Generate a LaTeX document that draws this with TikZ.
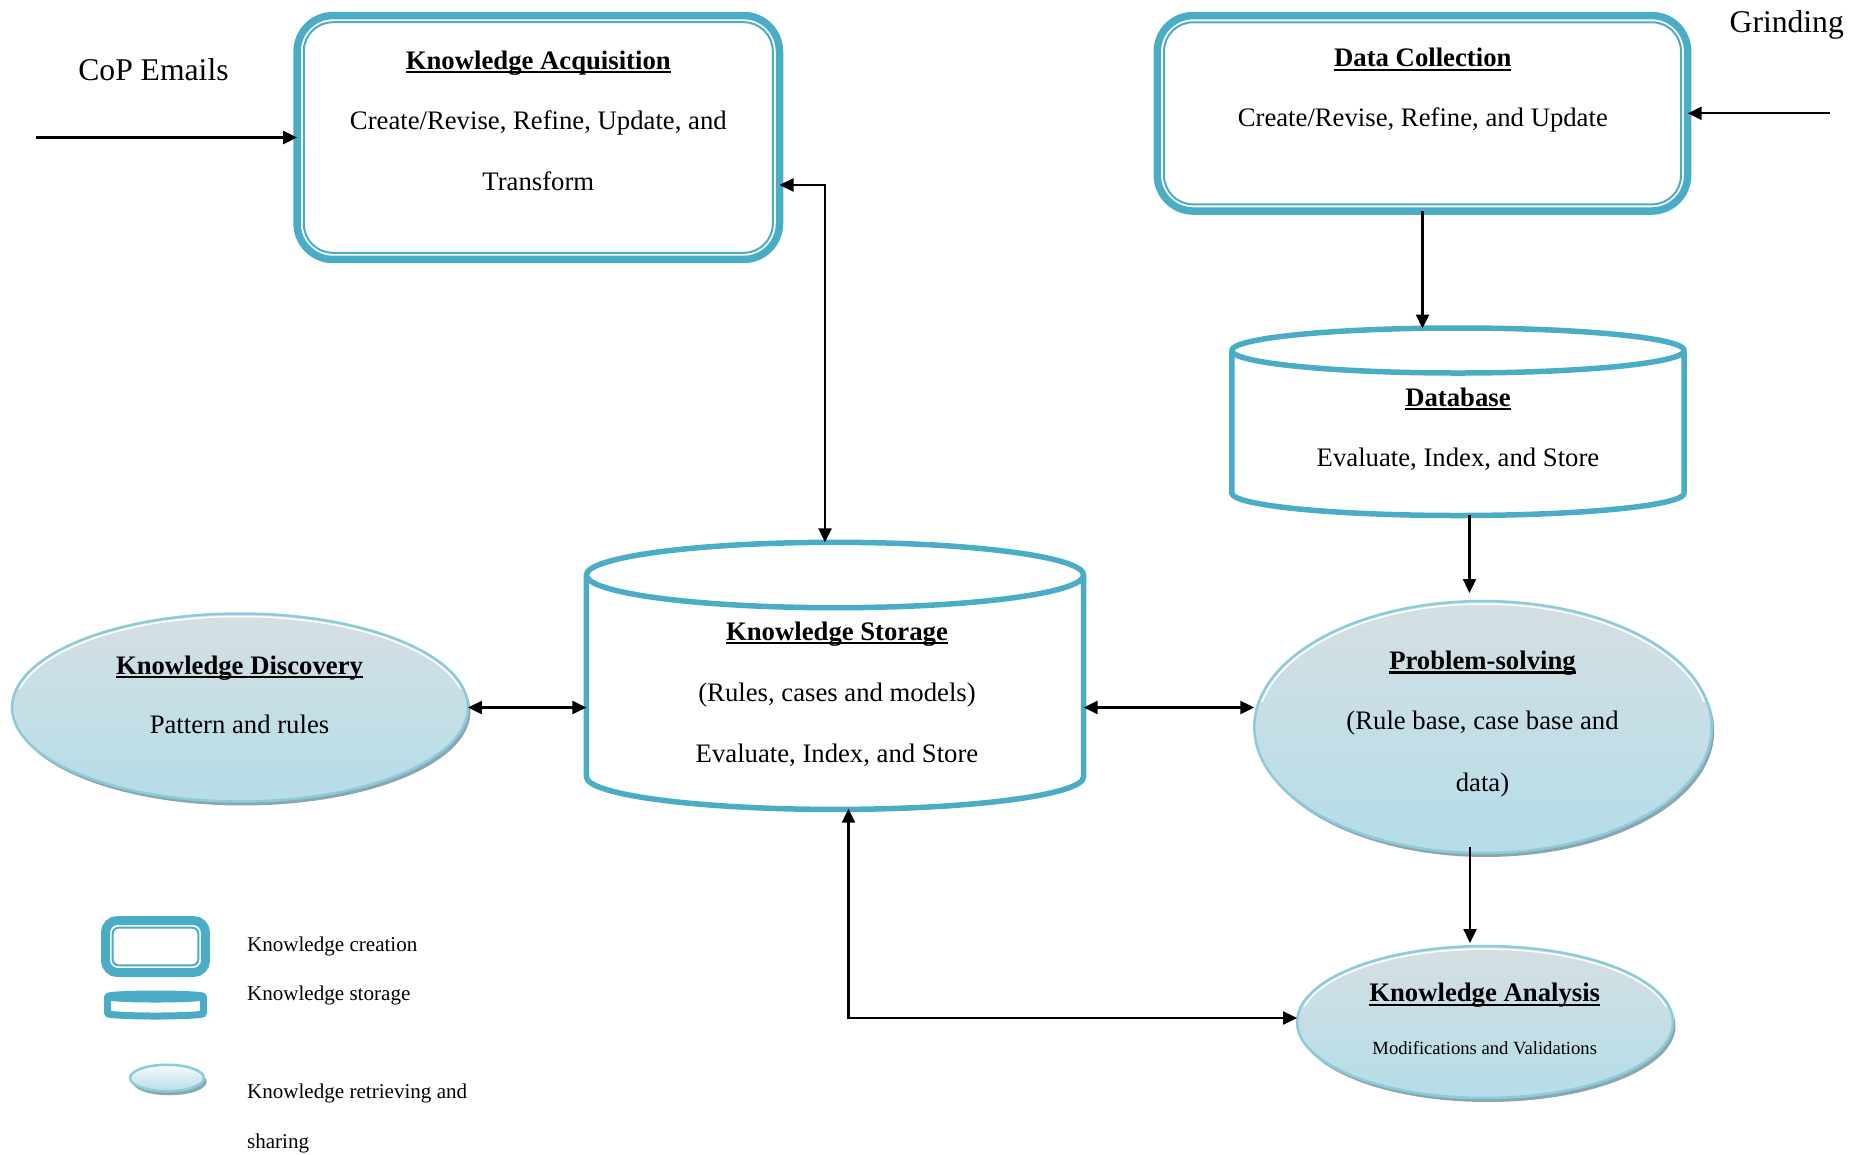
\documentclass[tikz,border=0pt]{standalone}
\usepackage{fontspec}
\setmainfont{Liberation Serif}
\usetikzlibrary{arrows.meta,shapes.geometric,shadows}

\definecolor{tealline}{RGB}{75,172,198}
\definecolor{ovaledge}{RGB}{140,203,218}
\definecolor{ovaltop}{RGB}{213,223,227}
\definecolor{ovalbottom}{RGB}{181,221,232}
\definecolor{ovalshadow}{RGB}{140,166,177}

% bold heading with a heavy underline
\newcommand{\headline}[1]{\vtop{\setbox0=\hbox{#1}\dp0=0pt \box0 \kern1.1pt \hrule height 1.4pt}}

% cylinder outline: [style] cx, rx, top centre y, bottom centre y, ry
\newcommand{\drawcyl}[6][]{%
  \draw[cylline,#1] (#2-#3,#4) -- (#2-#3,#5)
    .. controls (#2-#3,#5+0.5523*#6) and (#2-0.5523*#3,#5+#6) .. (#2,#5+#6)
    .. controls (#2+0.5523*#3,#5+#6) and (#2+#3,#5+0.5523*#6) .. (#2+#3,#5) -- (#2+#3,#4);
  \draw[cylline,#1] (#2,#4) ellipse ({#3} and {#6});
}

% white gloss line on the upper half of an oval: cx, cy, rx, ry
\newcommand{\gloss}[4]{%
  \begin{scope}
    \clip (#1-#3,#2-#4) rectangle (#1+#3,#2-0.2*#4);
    \draw[white, line width=0.03cm] (#1,#2) ellipse ({#3-3} and {#4-3});
  \end{scope}
}

\begin{document}
\begin{tikzpicture}[x=0.02cm, y=-0.02cm,
  createbox/.style={draw=tealline, line width=0.15cm, rounded corners=0.72cm,
    inner sep=0pt, outer sep=0pt},
  innerline/.style={draw=tealline, line width=0.04cm, rounded corners=0.58cm},
  cylline/.style={draw=tealline, line width=0.11cm, line join=round},
  cylarea/.style={inner sep=0pt, outer sep=0pt},
  oval/.style={ellipse, draw=ovaledge, line width=0.05cm,
    top color=ovaltop, bottom color=ovalbottom, inner sep=0pt, outer sep=0pt,
    drop shadow={shadow xshift=0.05cm, shadow yshift=-0.08cm, fill=ovalshadow, opacity=1}},
  body/.style={font=\fontsize{15.2}{18}\selectfont, anchor=base, inner sep=0pt},
  title/.style={font=\fontsize{15.2}{18}\selectfont\bfseries, anchor=base, inner sep=0pt},
  small/.style={font=\fontsize{10.6}{13}\selectfont, anchor=base, inner sep=0pt},
  legendtext/.style={font=\fontsize{12}{14}\selectfont, anchor=base west, inner sep=0pt},
  source/.style={font=\fontsize{18}{21}\selectfont, anchor=base west, inner sep=0pt},
  link/.style={line width=0.045cm, -{Triangle[length=0.28cm,width=0.26cm]}},
  twoway/.style={line width=0.045cm,
    {Triangle[length=0.28cm,width=0.26cm]}-{Triangle[length=0.28cm,width=0.26cm]}}
]
\useasboundingbox (0,0) rectangle (1856,1154);

% ---------- knowledge creation boxes ----------
\node[createbox, minimum width=9.65cm, minimum height=4.88cm] (acq) at (538.3,137.5) {};
\draw[innerline] ([shift={(0.134cm,-0.134cm)}]acq.north west)
  rectangle ([shift={(-0.134cm,0.134cm)}]acq.south east);
\node[title] (acqT) at (538.3,69) {\headline{Knowledge Acquisition}};
\node[body]  (acqA) at (538.3,129.3) {Create/Revise, Refine, Update, and};
\node[body]  (acqB) at (538.3,190.7) {Transform};

\node[createbox, minimum width=10.61cm, minimum height=3.91cm] (dc) at (1422.5,113.3) {};
\draw[innerline] ([shift={(0.134cm,-0.134cm)}]dc.north west)
  rectangle ([shift={(-0.134cm,0.134cm)}]dc.south east);
\node[title] (dcT) at (1422.8,66.7) {\headline{Data Collection}};
\node[body]  (dcA) at (1422.8,126.7) {Create/Revise, Refine, and Update};

% ---------- storage cylinders ----------
\node[cylarea, minimum width=9.946cm, minimum height=5.328cm] (store) at (835,675.5) {};
\drawcyl{835}{248.6}{575}{776.7}{32.7}
\node[title] (storeT) at (837,640) {\headline{Knowledge Storage}};
\node[body]  (storeA) at (837,701.5) {(Rules, cases and models)};
\node[body]  (storeB) at (837,762.7) {Evaluate, Index, and Store};

\node[cylarea, minimum width=9.048cm, minimum height=3.74cm] (db) at (1458,422) {};
\drawcyl{1458}{226.2}{350.5}{493}{22.5}
\node[title] (dbT) at (1458,406) {\headline{Database}};
\node[body]  (dbA) at (1458,466.7) {Evaluate, Index, and Store};

% ---------- retrieving and sharing ovals ----------
\node[oval, minimum width=9.12cm, minimum height=3.76cm] (disc) at (240,707.5) {};
\gloss{240}{707.5}{228}{94}
\node[title] (discT) at (239.5,674) {\headline{Knowledge Discovery}};
\node[body]  (discA) at (239.5,733.3) {Pattern and rules};

\node[oval, minimum width=9.15cm, minimum height=5.04cm] (ps) at (1483,727) {};
\gloss{1483}{727}{228.7}{126}
\node[title] (psT) at (1482.5,669.3) {\headline{Problem-solving}};
\node[body]  (psA) at (1482.5,729.3) {(Rule base, case base and};
\node[body]  (psB) at (1482.5,791.7) {data)};

\node[oval, minimum width=7.52cm, minimum height=3.04cm] (an) at (1485,1022) {};
\gloss{1485}{1022}{188}{76}
\node[title] (anT) at (1484.7,1001.7) {\headline{Knowledge Analysis}};
\node[small] (anA) at (1484.7,1054) {Modifications and Validations};

% ---------- inputs ----------
\node[source] (copT) at (78,80) {CoP Emails};
\node[source] (grT) at (1729.3,32) {Grinding};
\coordinate (cop) at (36,137.5);
\coordinate (grind) at (1830,113.3);

% ---------- connectors ----------
\draw[link] (cop) -- (acq.west);
\draw[link] (grind) -- (dc.east);
\draw[twoway] ([yshift=-0.95cm]acq.east) -| ([xshift=-0.2cm]store.north);
\draw[link] (dc.south) -- (dc.south |- db.north);
\draw[link, shorten >=0.16cm] ([xshift=0.23cm]db.south) -- ([xshift=0.23cm]db.south |- ps.north);
\draw[link, shorten >=0.06cm] ([xshift=-0.26cm, yshift=0.12cm]ps.south)
  -- ([xshift=-0.26cm]ps.south |- an.north);
\draw[twoway] (disc.east) -- (disc.east -| store.west);
\draw[twoway] (store.east |- disc.east) -- (ps.west |- disc.east);
\draw[twoway] ([xshift=0.27cm]store.south) |- ([yshift=0.08cm]an.west);

% ---------- legend ----------
\node[createbox, line width=0.18cm, rounded corners=0.24cm,
  minimum width=2.0cm, minimum height=1.04cm] (keyCreate) at (155.5,946.5) {};
\draw[innerline, rounded corners=0.12cm]
  ([shift={(0.144cm,-0.144cm)}]keyCreate.north west)
  rectangle ([shift={(-0.144cm,0.144cm)}]keyCreate.south east);
\drawcyl[line width=0.14cm]{155.5}{48}{996.5}{1013.5}{2.5}
\node[oval, line width=0.05cm, minimum width=1.48cm, minimum height=0.53cm,
  top color=white!85!ovaltop,
  drop shadow={shadow xshift=0.05cm, shadow yshift=-0.07cm, fill=ovalshadow, opacity=1}]
  (keyOval) at (167,1078) {};

\node[legendtext] (keyA) at (246.7,951.7) {Knowledge creation};
\node[legendtext] (keyB) at (246.7,1000.7) {Knowledge storage};
\node[legendtext] (keyC) at (246.7,1098.3) {Knowledge retrieving and};
\node[legendtext] (keyD) at (246.7,1148.3) {sharing};
\end{tikzpicture}
\end{document}
